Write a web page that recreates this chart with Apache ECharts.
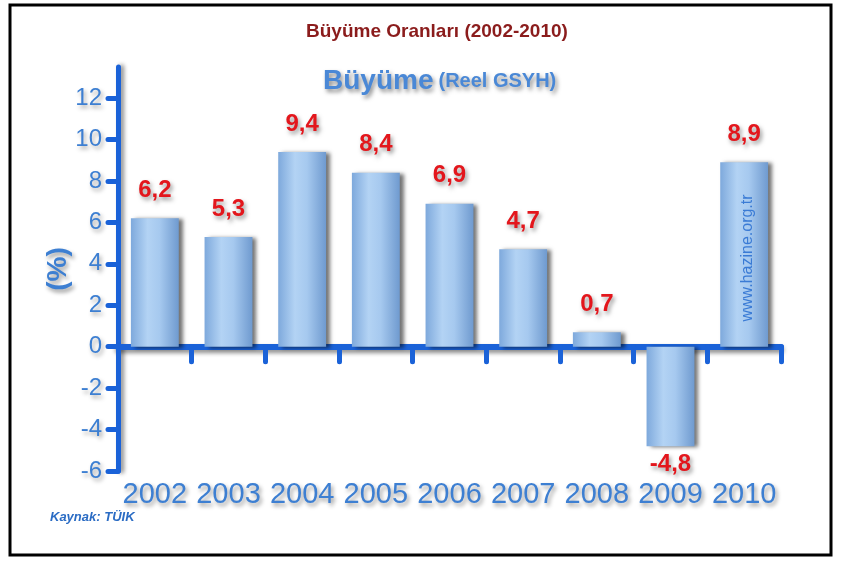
<!DOCTYPE html>
<html>
<head>
<meta charset="utf-8">
<script src="https://cdn.jsdelivr.net/npm/echarts@6/dist/echarts.min.js"></script>
<style>
html,body{margin:0;padding:0;background:#fff;}
#chart{width:841px;height:566px;}
</style>
</head>
<body>
<div id="chart"></div>
<script>
const years = ['2002','2003','2004','2005','2006','2007','2008','2009','2010'];
const growth = [6.2, 5.3, 9.4, 8.4, 6.9, 4.7, 0.7, -4.8, 8.9];
const yTicks = [-6,-4,-2,0,2,4,6,8,10,12];
const titleText = 'Büyüme Oranları (2002-2010)';
const subMain = 'Büyüme';
const subSmall = '(Reel GSYH)';
const sourceText = 'Kaynak: TÜIK';
const watermark = 'www.hazine.org.tr';

const axisBlue = '#1a62d8';
const labelBlue = '#3d7fd2';
const sans = "'Liberation Sans', Arial, sans-serif";

const barColor = {
  type: 'linear', x: 0, y: 0, x2: 1, y2: 0,
  colorStops: [
    {offset: 0, color: '#7ea9dc'},
    {offset: 0.35, color: '#b3d3f4'},
    {offset: 0.6, color: '#a6c9ef'},
    {offset: 1, color: '#6f9acf'}
  ]
};

const chart = echarts.init(document.getElementById('chart'));
chart.setOption({
  backgroundColor: '#fff',
  animation: false,
  title: [{
    text: titleText,
    left: 301,
    top: 17,
    textStyle: {color: '#8b1c1c', fontSize: 19, fontWeight: 'bold', fontFamily: sans}
  }, {
    text: '{a|' + subMain + '} {b|' + subSmall + '}',
    left: 318,
    top: 62,
    textStyle: {
      rich: {
        a: {color: '#4a88d6', fontSize: 28, fontWeight: 'bold', fontFamily: sans,
            textShadowColor: 'rgba(0,0,0,0.45)', textShadowBlur: 4, textShadowOffsetX: 2, textShadowOffsetY: 3},
        b: {color: '#4a88d6', fontSize: 20, fontWeight: 'bold', fontFamily: sans,
            textShadowColor: 'rgba(0,0,0,0.45)', textShadowBlur: 4, textShadowOffsetX: 2, textShadowOffsetY: 3}
      }
    }
  }],
  grid: {left: 118, right: 60, top: 67, bottom: 95},
  xAxis: [{
    type: 'category',
    data: years,
    boundaryGap: true,
    axisLine: {onZero: true, lineStyle: {color: axisBlue, width: 6, shadowColor: 'rgba(0,0,0,0.45)', shadowBlur: 4, shadowOffsetY: 3, cap: 'round'}},
    axisTick: {show: true, length: 15, lineStyle: {color: axisBlue, width: 5, cap: 'round'}},
    axisLabel: {show: false}
  }, {
    type: 'category',
    data: years,
    position: 'bottom',
    axisLine: {show: false, onZero: false},
    axisTick: {show: false},
    axisLabel: {
      interval: 0,
      margin: 9,
      color: labelBlue, fontSize: 29, fontFamily: sans,
      textShadowColor: 'rgba(0,0,0,0.4)', textShadowBlur: 4, textShadowOffsetX: 2, textShadowOffsetY: 3
    }
  }],
  yAxis: {
    type: 'value',
    min: -6,
    max: 13.5,
    interval: 2,
    splitLine: {show: false},
    name: '(%)',
    nameLocation: 'middle',
    nameRotate: 90,
    nameGap: 46,
    nameMoveOverlap: false,
    nameTextStyle: {color: labelBlue, fontSize: 28, fontWeight: 'bold', fontFamily: sans,
      textShadowColor: 'rgba(0,0,0,0.4)', textShadowBlur: 4, textShadowOffsetX: 2, textShadowOffsetY: 3},
    axisLine: {show: true, lineStyle: {color: axisBlue, width: 5, cap: 'round', shadowColor: 'rgba(0,0,0,0.45)', shadowBlur: 4, shadowOffsetX: 3}},
    axisTick: {show: true, length: 10, customValues: yTicks, lineStyle: {color: axisBlue, width: 5, cap: 'round'}},
    axisLabel: {
      customValues: yTicks,
      margin: 16,
      color: labelBlue, fontSize: 24, fontFamily: sans,
      textShadowColor: 'rgba(0,0,0,0.35)', textShadowBlur: 4, textShadowOffsetX: 2, textShadowOffsetY: 3
    }
  },
  series: [{
    type: 'bar',
    xAxisIndex: 0,
    barWidth: '65%',
    data: growth.map(v => ({
      value: v,
      label: v < 0 ? {position: 'bottom', distance: 6} : {position: 'top', distance: 16}
    })),
    itemStyle: {
      color: barColor,
      shadowColor: 'rgba(0,0,0,0.55)',
      shadowBlur: 4,
      shadowOffsetX: 4,
      shadowOffsetY: 1
    },
    label: {
      show: true,
      formatter: p => String(p.value).replace('.', ','),
      color: '#e3161c',
      fontSize: 24,
      fontWeight: 'bold',
      fontFamily: sans,
      textShadowColor: 'rgba(0,0,0,0.4)', textShadowBlur: 4, textShadowOffsetX: 2, textShadowOffsetY: 3
    }
  }],
  graphic: [{
    type: 'rect',
    shape: {x: 10, y: 5, width: 821, height: 550},
    style: {fill: 'none', stroke: '#000', lineWidth: 3},
    silent: true,
    z: 100
  }, {
    type: 'text',
    left: 50,
    top: 511,
    z: 100,
    style: {text: sourceText, fill: '#2b6cc4', font: 'italic bold 13px Arial'}
  }, {
    type: 'text',
    x: 748,
    y: 258,
    z: 100,
    rotation: Math.PI / 2,
    style: {text: watermark, fill: '#3a7bd5', font: '16px Arial', align: 'center', verticalAlign: 'middle'}
  }]
});
</script>
</body>
</html>
